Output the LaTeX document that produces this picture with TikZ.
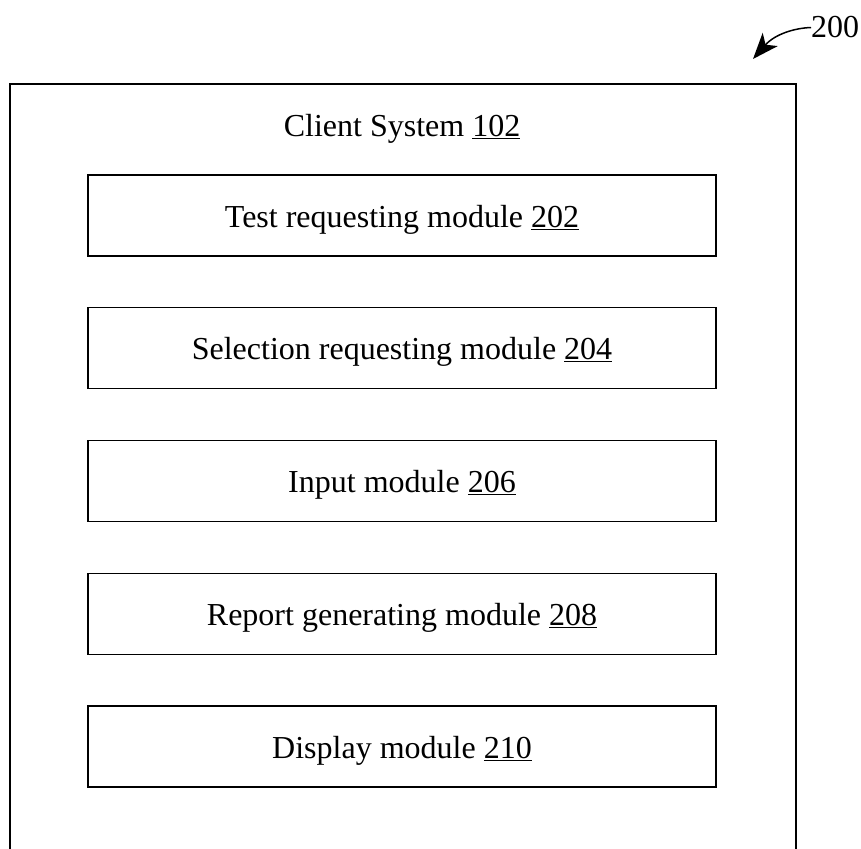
\documentclass[tikz,border=0pt]{standalone}
\usepackage{fontspec}
\setmainfont{Liberation Serif}
\usetikzlibrary{arrows.meta}
\begin{document}
\begin{tikzpicture}[x=1pt,y=-1pt,
  frame/.style={draw=black,line width=1.6pt},
  modbox/.style={frame,rectangle,minimum width=628pt,minimum height=81pt,inner sep=0pt,
    font=\fontsize{32}{38}\selectfont,text height=24pt,text depth=1pt},
  lbl/.style={font=\fontsize{32}{38}\selectfont,inner sep=0pt}]
\useasboundingbox (0,0) rectangle (861,848);
\clip (0,0) rectangle (861,848);
\node[frame,rectangle,minimum width=786pt,minimum height=800pt,inner sep=0pt,anchor=north west] (client) at (9,83) {};
\node[lbl,anchor=base] (title) at (402,136) {Client System \underline{102}};
\node[modbox] (m202) at (402,215.5) {Test requesting module \underline{202}};
\node[modbox] (m204) at (402,348) {Selection requesting module \underline{204}};
\node[modbox] (m206) at (402,481) {Input module \underline{206}};
\node[modbox] (m208) at (402,614) {Report generating module \underline{208}};
\node[modbox] (m210) at (402,746.5) {Display module \underline{210}};
\node[lbl,anchor=base west] (ref) at (811,38) {200};
\coordinate (tip) at (753,59);
\draw[line width=1.5pt,-{Stealth[length=26pt,width=20pt,inset=7pt]}] (ref.west) .. controls (795,28) and (775,34) .. (tip);
\end{tikzpicture}
\end{document}
